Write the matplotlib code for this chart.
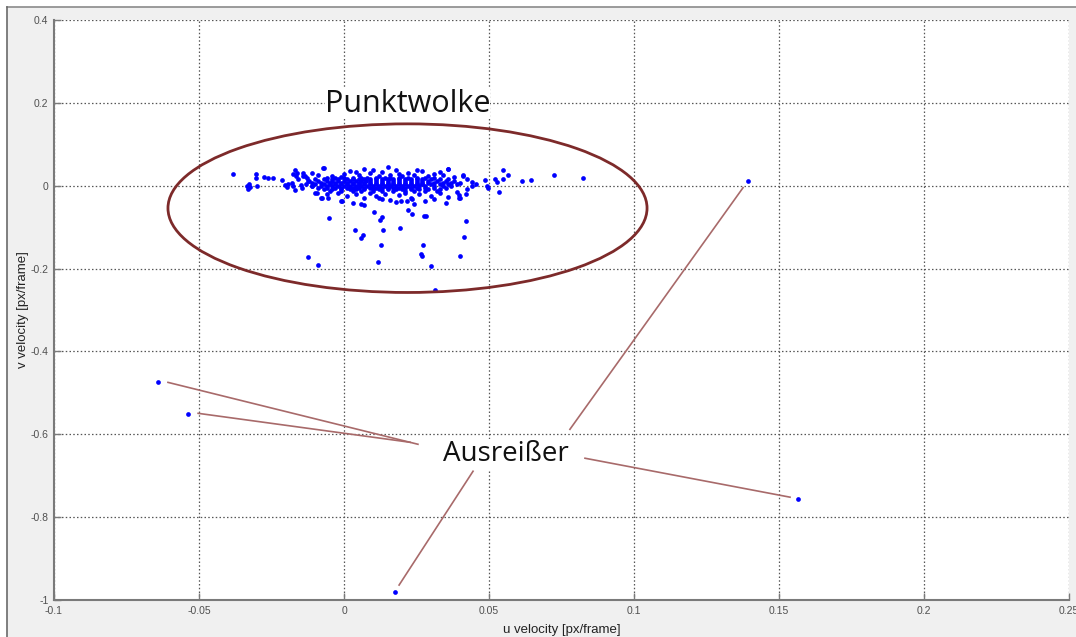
import matplotlib.pyplot as plt
from matplotlib.patches import Ellipse, Rectangle
from matplotlib.lines import Line2D

# Dense core of the velocity cloud: (v, [u values along that row])
core_rows = [
    (0.019, [-0.006, -0.003, 0.000, 0.003, 0.006, 0.008, 0.011, 0.014, 0.016, 0.019, 0.022, 0.025, 0.028, 0.031]),
    (0.015, [-0.010, -0.007, -0.004, -0.002, 0.001, 0.003, 0.005, 0.007, 0.009, 0.011, 0.013, 0.015, 0.017,
             0.019, 0.021, 0.023, 0.025, 0.027, 0.030, 0.033, 0.036]),
    (0.011, [-0.012, -0.009, -0.006, -0.004, -0.002, 0.000, 0.002, 0.004, 0.006, 0.0075, 0.009, 0.011, 0.013,
             0.015, 0.017, 0.019, 0.021, 0.023, 0.025, 0.027, 0.029, 0.032, 0.035, 0.038]),
    (0.007, [-0.011, -0.008, -0.005, -0.003, -0.001, 0.001, 0.003, 0.005, 0.007, 0.009, 0.011, 0.013, 0.015,
             0.017, 0.019, 0.021, 0.023, 0.025, 0.027, 0.029, 0.031, 0.034, 0.037, 0.040]),
    (0.003, [-0.013, -0.010, -0.007, -0.005, -0.003, -0.001, 0.001, 0.003, 0.005, 0.007, 0.009, 0.011, 0.013,
             0.015, 0.017, 0.019, 0.021, 0.023, 0.025, 0.027, 0.030, 0.033, 0.036, 0.039]),
    (-0.001, [-0.011, -0.008, -0.006, -0.004, -0.002, 0.000, 0.002, 0.004, 0.006, 0.008, 0.010, 0.012, 0.014,
              0.016, 0.018, 0.020, 0.022, 0.024, 0.026, 0.028, 0.031, 0.034, 0.037]),
    (-0.005, [-0.009, -0.006, -0.003, -0.001, 0.001, 0.003, 0.005, 0.007, 0.009, 0.011, 0.013, 0.015, 0.017,
              0.019, 0.021, 0.023, 0.025, 0.028, 0.031, 0.035]),
    (-0.009, [-0.007, -0.004, -0.001, 0.002, 0.004, 0.007, 0.010, 0.012, 0.015, 0.018, 0.020, 0.023, 0.026,
              0.029, 0.033]),
    (-0.013, [-0.005, -0.001, 0.003, 0.006, 0.010, 0.013, 0.017, 0.021, 0.024, 0.028, 0.032]),
]

# Scattered points around the core
fringe_pts = [
    # above
    (-0.014, 0.024), (-0.009, 0.027), (-0.004, 0.023), (0.000, 0.029), (0.002, 0.036), (0.005, 0.025),
    (0.007, 0.041), (0.009, 0.030), (0.012, 0.024), (0.013, 0.033), (0.016, 0.027), (0.018, 0.038),
    (0.020, 0.023), (0.022, 0.031), (0.024, 0.026), (0.027, 0.035), (0.029, 0.024), (0.031, 0.029),
    (0.034, 0.025), (0.036, 0.040), (0.038, 0.022), (0.041, 0.027), (-0.007, 0.043), (0.004, 0.032),
    (0.015, 0.044), (0.025, 0.038), (-0.011, 0.031), (0.010, 0.037), (0.033, 0.033), (-0.001, 0.021),
    (0.019, 0.029),
    # below
    (-0.010, -0.018), (-0.006, -0.021), (-0.002, -0.017), (0.001, -0.026), (0.004, -0.019), (0.007, -0.030),
    (0.009, -0.018), (0.011, -0.024), (0.014, -0.020), (0.016, -0.034), (0.019, -0.022), (0.021, -0.017),
    (0.023, -0.029), (0.026, -0.020), (0.028, -0.037), (0.030, -0.024), (0.033, -0.018), (0.036, -0.027),
    (0.039, -0.016), (0.042, -0.020), (-0.008, -0.030), (0.003, -0.041), (0.013, -0.031), (0.024, -0.044),
    (0.031, -0.033), (-0.001, -0.038), (0.018, -0.040), (0.040, -0.030), (0.035, -0.041), (0.006, -0.045),
    # left
    (-0.0384, 0.0272), (-0.0303, 0.0282), (-0.0304, 0.0185), (-0.0275, 0.0209), (-0.0261, 0.0185),
    (-0.0244, 0.0185), (-0.0328, 0.0048), (-0.0336, -0.0016), (-0.0324, -0.0040), (-0.0332, -0.0080),
    (-0.0301, -0.0016), (-0.0213, 0.0128), (-0.0203, 0.0024), (-0.0192, 0.0048), (-0.0180, 0.0065),
    (-0.0169, 0.0386), (-0.0175, 0.0289), (-0.0163, 0.0306), (-0.0167, 0.0241), (-0.0140, 0.0306),
    (-0.0134, 0.0241), (-0.0129, 0.0185), (-0.0169, -0.0096), (-0.0175, -0.0016), (-0.0123, 0.0104),
    (-0.0112, -0.0016), (-0.0094, -0.0176), (-0.0071, 0.0427), (-0.0077, -0.0297), (-0.0054, -0.0297),
    (-0.0006, -0.0378), (-0.0158, 0.0150), (-0.0150, 0.0010), (-0.0145, -0.0060), (-0.0195, -0.0040),
    # right
    (0.0360, 0.0402), (0.0423, 0.0161), (0.0440, -0.0016), (0.0398, -0.0217), (0.0398, -0.0297),
    (0.0486, 0.0145), (0.0492, -0.0016), (0.0497, -0.0056), (0.0521, 0.0169), (0.0527, 0.0080),
    (0.0536, -0.0152), (0.0547, 0.0370), (0.0549, 0.0161), (0.0567, 0.0265), (0.0613, 0.0104),
    (0.0644, 0.0145), (0.0725, 0.0249), (0.0825, 0.0185), (0.0440, 0.0080), (0.0425, -0.0090),
    (0.0455, 0.0040), (0.0410, 0.0230),
]

# Points trailing below the cloud
tail_pts = [
    (-0.0052, -0.0779), (0.0038, -0.106), (0.0060, -0.126), (0.0067, -0.120), (0.0069, -0.0458),
    (0.0102, -0.0627), (0.0124, -0.082), (0.0130, -0.0763), (0.0134, -0.107), (0.0127, -0.142),
    (0.0116, -0.185), (0.0193, -0.102), (0.0222, -0.0595), (0.0236, -0.0675), (0.0276, -0.0731),
    (0.0282, -0.074), (0.0274, -0.142), (0.0266, -0.164), (0.0268, -0.170), (0.0299, -0.194),
    (0.0314, -0.2506), (0.0421, -0.0843), (0.0415, -0.125), (0.0400, -0.169), (-0.0125, -0.173),
    (-0.0089, -0.191), (0.0216, -0.0378), (0.0198, -0.0378), (0.0233, -0.032), (0.0119, -0.0297),
]

# Outliers
outlier_u = [-0.0641, -0.0537, 0.0176, 0.1392, 0.1567]
outlier_v = [-0.474, -0.550, -0.9815, 0.0104, -0.7566]

x_ticks = [-0.1, -0.05, 0, 0.05, 0.1, 0.15, 0.2, 0.25]
x_labels = ['-0.1', '-0.05', '0', '0.05', '0.1', '0.15', '0.2', '0.25']
y_ticks = [-1, -0.8, -0.6, -0.4, -0.2, 0, 0.2, 0.4]
y_labels = ['-1', '-0.8', '-0.6', '-0.4', '-0.2', '0', '0.2', '0.4']

# pointer lines from the "Ausreißer" label towards the outliers
pointers = [
    ((-0.0607, -0.4747), (0.0255, -0.6241)),
    ((-0.0503, -0.5494), (0.0228, -0.6193)),
    ((0.0445, -0.6892), (0.0190, -0.9639)),
    ((0.0779, -0.5880), (0.1376, -0.0048)),
    ((0.0831, -0.6578), (0.1538, -0.7518)),
]

u_all, v_all = [], []
for v, us in core_rows:
    u_all += us
    v_all += [v] * len(us)
for u, v in fringe_pts + tail_pts:
    u_all.append(u)
    v_all.append(v)
u_all += outlier_u
v_all += outlier_v

fig = plt.figure(figsize=(10.76, 6.37), dpi=100, facecolor='#f0f0f0')

# white strip above and left of the window frame
fx, fy = 7 / 1076, 1 - 7 / 637
fig.patches.append(Rectangle((0, fy), 1, 1 - fy, transform=fig.transFigure,
                             facecolor='white', edgecolor='none'))
fig.patches.append(Rectangle((0, 0), fx, 1, transform=fig.transFigure,
                             facecolor='white', edgecolor='none'))
fig.lines.append(Line2D([fx, 1], [fy, fy], transform=fig.transFigure, color='#8a8a8a', lw=1.2))
fig.lines.append(Line2D([fx, fx], [0, fy], transform=fig.transFigure, color='#6a6a6a', lw=1.2))

ax = fig.add_axes([54 / 1076, 1 - 600 / 637, (1069 - 54) / 1076, 580 / 637])
ax.set_facecolor('white')

ax.plot(u_all, v_all, 'o', color='#0000ff', markersize=3.4, markeredgewidth=0, zorder=3)

ax.set_xlim(-0.1, 0.25)
ax.set_ylim(-1, 0.4)
ax.set_xticks(x_ticks)
ax.set_xticklabels(x_labels, family='Liberation Sans')
ax.set_yticks(y_ticks)
ax.set_yticklabels(y_labels, family='Liberation Sans')
ax.grid(True, linestyle=(0, (1.2, 1.8)), color='#555555', linewidth=0.9)
ax.set_axisbelow(True)

for side in ['top', 'right']:
    ax.spines[side].set_visible(False)
for side in ['left', 'bottom']:
    ax.spines[side].set_color('#7a7a7a')
    ax.spines[side].set_linewidth(1.5)

ax.tick_params(direction='in', length=5, width=1, color='#7a7a7a',
               labelsize=7.5, labelcolor='#505050', pad=4)
ax.set_xlabel('u velocity [px/frame]', fontsize=9.5, color='#222222', family='Liberation Sans')
ax.set_ylabel('v velocity [px/frame]', fontsize=9.5, color='#222222', family='Liberation Sans')
ax.xaxis.set_label_coords(0.5, -0.041)
ax.yaxis.set_label_coords(-0.025, 0.5)

# circle round the point cloud
ax.add_patch(Ellipse((0.0219, -0.0542), 0.1652, 0.407, fill=False,
                     edgecolor='#7d2a2a', linewidth=2.0, zorder=4))

for (x0, y0), (x1, y1) in pointers:
    ax.plot([x0, x1], [y0, y1], color='#a86a6a', linewidth=1.2, zorder=4)

ax.text(0.0219, 0.1783, 'Punktwolke', fontsize=22, family='Open Sans',
        ha='center', va='baseline', color='#111111', zorder=5,
        bbox=dict(facecolor='white', edgecolor='none', pad=0))
ax.text(0.0559, -0.665, 'Ausreißer', fontsize=20, family='Open Sans',
        ha='center', va='baseline', color='#111111', zorder=5,
        bbox=dict(facecolor='white', edgecolor='none', pad=1))

fig.savefig('out.png', dpi=100, facecolor=fig.get_facecolor())
